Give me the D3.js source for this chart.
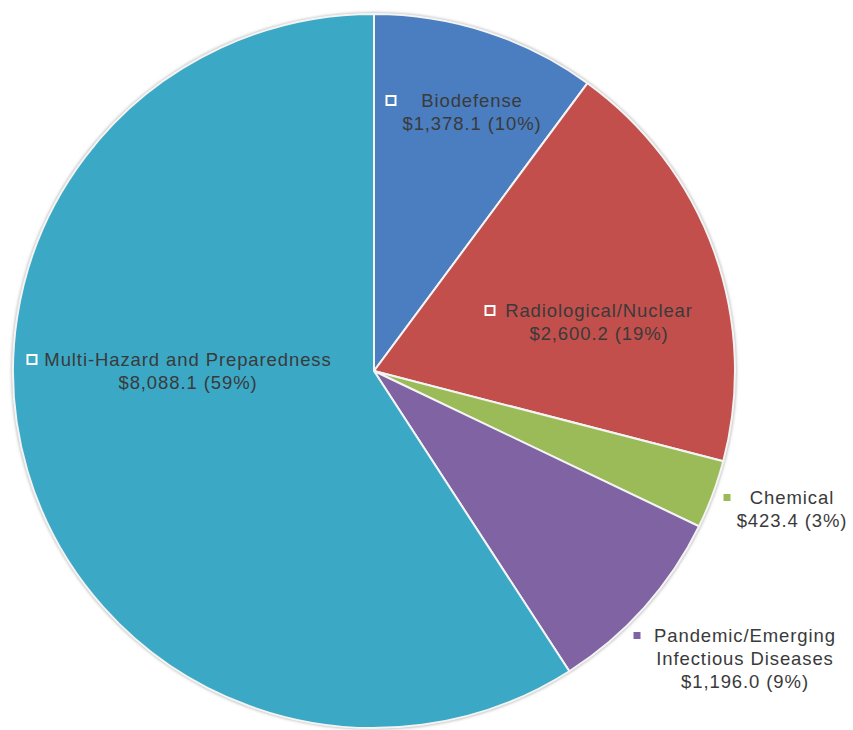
<!DOCTYPE html>
<html>
<head>
<meta charset="utf-8">
<script src="https://cdn.jsdelivr.net/npm/d3@7"></script>
<style>
  body { margin: 0; background: #fff; }
  text { font-family: "Liberation Sans", Arial, Helvetica, sans-serif; fill: #3a3a3a; }
</style>
</head>
<body>
<div class="chart"></div>
<script>
var width = 853;
var height = 730;

// data
var categories = ["Biodefense", "Radiological/Nuclear", "Chemical", "Pandemic/Emerging Infectious Diseases", "Multi-Hazard and Preparedness"];
var values = [1378.1, 2600.2, 423.4, 1196.0, 8088.1];
var percents = ["10%", "19%", "3%", "9%", "59%"];
var colors = ["#4a7ec0", "#c24f4c", "#9bbb58", "#8063a3", "#3ba9c6"];

// label lines for each slice
var labelLines = [
    ["Biodefense", "$1,378.1 (10%)"],
    ["Radiological/Nuclear", "$2,600.2 (19%)"],
    ["Chemical", "$423.4 (3%)"],
    ["Pandemic/Emerging", "Infectious Diseases", "$1,196.0 (9%)"],
    ["Multi-Hazard and Preparedness", "$8,088.1 (59%)"]
];

var cx = 374, cy = 371, rx = 361, ry = 357;

var data = categories.map(function(c, i) {
    return { name: c, value: values[i], color: colors[i], lines: labelLines[i] };
});

function build_svg(c) {
    return c.append("svg").attr("width", width).attr("height", height);
}

function build_pie(s) {
    var defs = s.append("defs");
    var f = defs.append("filter").attr("id", "shadow")
        .attr("x", "-10%").attr("y", "-10%").attr("width", "120%").attr("height", "120%");
    f.append("feGaussianBlur").attr("stdDeviation", 1.5);

    var g = s.append("g")
        .attr("transform", "translate(" + cx + "," + cy + ") scale(1," + (ry / rx) + ")");

    g.append("circle").attr("r", rx + 1.5).attr("fill", "#b8b8b8").attr("filter", "url(#shadow)");

    var pie = d3.pie().sort(null).value(function(d) { return d.value; });
    var arc = d3.arc().innerRadius(0).outerRadius(rx);

    g.selectAll(".slice")
        .data(pie(data))
        .enter().append("path")
        .attr("class", "slice")
        .attr("d", arc)
        .attr("fill", function(d) { return d.data.color; })
        .attr("stroke", "#f4f4f4")
        .attr("stroke-width", 2);
}

// label anchor positions (centre of text block, first line baseline) and marker offset
var labelPos = [
    { x: 472, y: 107, mx: 391, outline: true },
    { x: 599, y: 317, mx: 490, outline: true },
    { x: 792, y: 504, mx: 727, outline: false },
    { x: 745, y: 642, mx: 637, outline: false },
    { x: 188, y: 366, mx: 32, outline: true }
];

function build_labels(s) {
    var lh = 23;
    data.forEach(function(d, i) {
        var p = labelPos[i];
        var g = s.append("g");
        d.lines.forEach(function(line, j) {
            g.append("text")
                .attr("x", p.x)
                .attr("y", p.y + j * lh)
                .attr("text-anchor", "middle")
                .style("font-size", "18.5px")
                .style("letter-spacing", "0.9px")
                .text(line);
        });
        if (p.outline) {
            g.append("rect")
                .attr("x", p.mx - 4.5).attr("y", p.y - 11)
                .attr("width", 9).attr("height", 9)
                .attr("fill", d.color)
                .attr("stroke", "#ffffff").attr("stroke-width", 2);
        } else {
            g.append("rect")
                .attr("x", p.mx - 3.5).attr("y", p.y - 10)
                .attr("width", 7).attr("height", 7)
                .attr("fill", d.color);
        }
    });
}

function main() {
    var container = d3.select(".chart");
    var svg = build_svg(container);
    build_pie(svg);
    build_labels(svg);
}

main();
</script>
</body>
</html>
